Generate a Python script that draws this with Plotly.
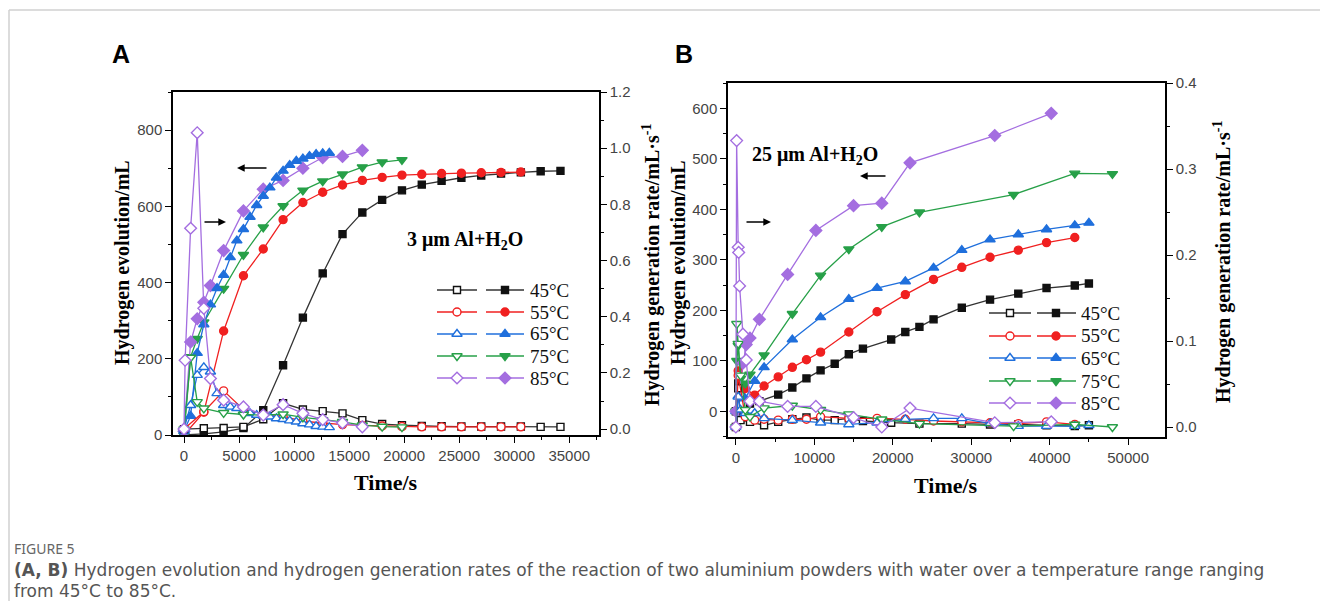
import plotly.graph_objects as go

# ---------------- data : panel A (3 um Al) ----------------
tA_45 = [0, 1800, 3600, 5400, 7200, 9000, 10800, 12600, 14400, 16200, 18000, 19800, 21600, 23400, 25200, 27000, 28800, 30600, 32400, 34200]
hA_45 = [0, 3, 8, 18, 65, 183, 308, 424, 527, 584, 617, 642, 657, 667, 675, 681, 686, 689, 692, 693]
rA_45 = [0.0, 0.003, 0.004, 0.008, 0.035, 0.092, 0.070, 0.064, 0.056, 0.032, 0.018, 0.014, 0.011, 0.010, 0.009, 0.009, 0.009, 0.009, 0.008, 0.008]

tA_55 = [0, 1800, 3600, 5400, 7200, 9000, 10800, 12600, 14400, 16200, 18000, 19800, 21600, 23400, 25200, 27000, 28800, 30600]
hA_55 = [0, 60, 273, 418, 488, 565, 610, 637, 656, 668, 676, 682, 684, 686, 687, 688, 689, 690]
rA_55 = [0.0, 0.062, 0.136, 0.070, 0.050, 0.045, 0.028, 0.022, 0.016, 0.013, 0.011, 0.009, 0.008, 0.008, 0.008, 0.008, 0.008, 0.008]

tA_65 = [0, 600, 1200, 1800, 2400, 3000, 3600, 4200, 4800, 5400, 6000, 6600, 7200, 7800, 8400, 9000, 9600, 10200, 10800, 11400, 12000, 12600, 13200]
hA_65 = [10, 50, 215, 290, 342, 385, 420, 466, 510, 540, 572, 603, 627, 649, 675, 693, 708, 719, 725, 732, 737, 739, 740]
rA_65 = [0.0, 0.085, 0.192, 0.220, 0.204, 0.127, 0.085, 0.079, 0.074, 0.062, 0.056, 0.050, 0.047, 0.044, 0.038, 0.035, 0.030, 0.026, 0.020, 0.016, 0.010, 0.008, 0.006]

tA_75 = [0, 600, 1200, 1800, 3600, 5400, 7200, 9000, 10800, 12600, 14400, 16200, 18000, 19800]
hA_75 = [0, 205, 253, 296, 384, 473, 545, 601, 642, 666, 684, 703, 716, 722]
rA_75 = [0.0, 0.255, 0.097, 0.074, 0.058, 0.052, 0.050, 0.053, 0.042, 0.033, 0.026, 0.014, 0.009, 0.007]

tA_85_rate = [0, 100, 600, 1200, 1800, 2400, 3600, 5400, 7200, 9000, 10800, 12600, 14400, 16200]
rA_85 = [0.0, 0.245, 0.715, 1.055, 0.430, 0.180, 0.103, 0.079, 0.050, 0.087, 0.056, 0.034, 0.022, 0.008]
tA_85_vol = [0, 600, 1200, 1800, 2400, 3600, 5400, 7200, 9000, 10800, 12600, 14400, 16200]
hA_85 = [10, 244, 305, 348, 392, 484, 588, 645, 668, 700, 728, 731, 747]

# ---------------- data : panel B (25 um Al) ----------------
tB_45_vol = [0, 300, 1800, 3000, 5400, 7200, 9000, 10800, 12600, 14400, 16200, 19800, 21600, 23400, 25200, 28800, 32400, 36000, 39600, 43200, 45000]
hB_45 = [0, 55, 15, 20, 33, 47, 65, 81, 94, 113, 124, 142, 157, 167, 182, 205, 221, 233, 244, 249, 253]
tB_45_rate = [0, 300, 600, 1800, 3600, 5400, 7200, 9000, 10800, 12600, 14400, 16200, 19800, 23400, 28800, 32400, 36000, 39600, 43200, 45000]
rB_45 = [0.0, 0.045, 0.008, 0.006, 0.002, 0.006, 0.009, 0.011, 0.008, 0.008, 0.010, 0.007, 0.005, 0.004, 0.004, 0.003, 0.003, 0.002, 0.001, 0.002]

tB_55 = [0, 300, 1200, 2400, 3600, 5400, 7200, 9000, 10800, 14400, 18000, 21600, 25200, 28800, 32400, 36000, 39600, 43200]
hB_55 = [0, 80, 45, 32, 50, 68, 87, 102, 117, 157, 197, 231, 261, 285, 305, 319, 334, 344]
rB_55 = [0.0, 0.060, 0.012, 0.008, 0.009, 0.008, 0.009, 0.009, 0.012, 0.010, 0.010, 0.009, 0.007, 0.006, 0.005, 0.004, 0.006, 0.003]

tB_65_vol = [0, 300, 1200, 2400, 3600, 7200, 10800, 14400, 18000, 21600, 25200, 28800, 32400, 36000, 39600, 43200, 45000]
hB_65 = [0, 30, 25, 60, 87, 142, 186, 222, 244, 257, 284, 319, 340, 350, 360, 368, 373]
tB_65_rate = [0, 300, 600, 1200, 2400, 3600, 7200, 10800, 14400, 18000, 21600, 25200, 28800, 32400, 36000, 39600, 43200, 45000]
rB_65 = [0.0, 0.035, 0.020, 0.016, 0.016, 0.010, 0.008, 0.005, 0.003, 0.005, 0.009, 0.010, 0.010, 0.004, 0.001, 0.001, 0.001, 0.002]

tB_75 = [0, 120, 300, 600, 1200, 1800, 3600, 7200, 10800, 14400, 18600, 23400, 35400, 43200, 48000]
hB_75 = [0, 100, 130, 65, 55, 73, 111, 193, 269, 321, 365, 394, 429, 471, 470]
rB_75 = [0.0, 0.120, 0.097, 0.060, 0.020, 0.012, 0.022, 0.025, 0.020, 0.015, 0.009, 0.004, 0.001, 0.003, 0.0]

tB_85_rate = [0, 100, 300, 360, 480, 900, 1320, 1800, 3000, 6600, 10200, 15000, 18600, 22200, 33000, 40200]
rB_85 = [0.0, 0.333, 0.209, 0.203, 0.164, 0.108, 0.078, 0.030, 0.030, 0.024, 0.024, 0.011, 0.0, 0.022, 0.005, 0.006]
tB_85_vol = [0, 900, 1320, 1800, 3000, 6600, 10200, 15000, 18600, 22200, 33000, 40200]
hB_85 = [0, 95, 132, 145, 182, 271, 358, 407, 412, 492, 546, 590]

temps = ["45", "55", "65", "75", "85"]
legend_labels = ["45°C", "55°C", "65°C", "75°C", "85°C"]

# ---------------- styling ----------------
W, H = 1320, 601
def PX(x): return x / W
def PY(y): return 1 - y / H

COL = {"45": "#111111", "55": "#f02020", "65": "#1f6fdc", "75": "#27a048", "85": "#a46ee0"}
LCOL = {"45": "#333333", "55": "#f02020", "65": "#1f6fdc", "75": "#27a048", "85": "#a46ee0"}
SYM = {"45": "square", "55": "circle", "65": "triangle-up", "75": "triangle-down", "85": "diamond"}
SIZE = {"45": 7, "55": 8, "65": 9, "75": 9, "85": 9}

fig = go.Figure()

def series(t, v, temp, filled, xa, ya):
    c = COL[temp]
    fig.add_trace(go.Scatter(
        x=t, y=v, mode="lines+markers", xaxis=xa, yaxis=ya,
        line=dict(color=LCOL[temp], width=1.3),
        marker=dict(symbol=SYM[temp], size=SIZE[temp],
                    color=c if filled else "white",
                    line=dict(color=c, width=1.4)),
        showlegend=False, hoverinfo="skip"))

# panel A
series(tA_45, rA_45, "45", False, "x", "y2")
series(tA_55, rA_55, "55", False, "x", "y2")
series(tA_65, rA_65, "65", False, "x", "y2")
series(tA_75, rA_75, "75", False, "x", "y2")
series(tA_85_rate, rA_85, "85", False, "x", "y2")
series(tA_45, hA_45, "45", True, "x", "y")
series(tA_55, hA_55, "55", True, "x", "y")
series(tA_75, hA_75, "75", True, "x", "y")
series(tA_85_vol, hA_85, "85", True, "x", "y")
series(tA_65, hA_65, "65", True, "x", "y")

# panel B
series(tB_45_rate, rB_45, "45", False, "x2", "y4")
series(tB_55, rB_55, "55", False, "x2", "y4")
series(tB_65_rate, rB_65, "65", False, "x2", "y4")
series(tB_75, rB_75, "75", False, "x2", "y4")
series(tB_85_rate, rB_85, "85", False, "x2", "y4")
series(tB_45_vol, hB_45, "45", True, "x2", "y3")
series(tB_55, hB_55, "55", True, "x2", "y3")
series(tB_65_vol, hB_65, "65", True, "x2", "y3")
series(tB_75, hB_75, "75", True, "x2", "y3")
series(tB_85_vol, hB_85, "85", True, "x2", "y3")

# ---------------- hand-drawn legends (pixel overlay axis) ----------------
def legend_block(rows_y, open_seg, open_mk, fill_seg, fill_mk, text_x):
    for i, temp in enumerate(temps):
        yy = rows_y[i]
        c = COL[temp]
        for seg, mk, filled in ((open_seg, open_mk, False), (fill_seg, fill_mk, True)):
            fig.add_trace(go.Scatter(x=[seg[0], seg[1]], y=[yy, yy], mode="lines",
                                     xaxis="x3", yaxis="y5", line=dict(color=LCOL[temp], width=1.4),
                                     showlegend=False, hoverinfo="skip"))
            fig.add_trace(go.Scatter(x=[mk], y=[yy], mode="markers", xaxis="x3", yaxis="y5",
                                     marker=dict(symbol=SYM[temp], size=SIZE[temp],
                                                 color=c if filled else "white",
                                                 line=dict(color=c, width=1.4)),
                                     showlegend=False, hoverinfo="skip"))
        fig.add_annotation(x=PX(text_x), y=PY(yy), xref="paper", yref="paper",
                           text=legend_labels[i], showarrow=False, xanchor="left", yanchor="middle",
                           font=dict(family="Liberation Serif, Times New Roman, serif", size=19, color="#111"))

legend_block([290, 312, 334, 356, 378], (437, 477), 457, (486, 524), 505, 528)
legend_block([313, 336, 358, 381, 403], (989, 1031), 1010, (1037, 1076), 1056, 1079)

# ---------------- axes ----------------
tickfont = dict(family="Liberation Sans, Arial, sans-serif", size=15, color="#444")
common = dict(showline=True, linecolor="black", linewidth=1.5, ticks="outside", ticklen=6,
              tickwidth=1.3, tickcolor="black", showgrid=False, zeroline=False, tickfont=tickfont,
              automargin=False)

fig.update_layout(
    template="none",
    width=W, height=H, margin=dict(l=0, r=0, t=0, b=0, pad=0, autoexpand=False), autosize=False,
    paper_bgcolor="white", plot_bgcolor="rgba(0,0,0,0)",
    xaxis=dict(domain=[PX(173), PX(599)], range=[-1000, 37700], anchor="y", mirror=True,
               tick0=0, dtick=5000, tickformat="d",
               minor=dict(ticks="outside", ticklen=3, dtick=2500, tick0=0, tickcolor="black"),
               **common),
    yaxis=dict(domain=[PY(435), PY(92)], range=[0, 900], anchor="x", tick0=0, dtick=200,
               minor=dict(ticks="outside", ticklen=3, dtick=100, tick0=0, tickcolor="black"), **common),
    yaxis2=dict(overlaying="y", side="right", anchor="x", range=[-0.021, 1.2], tick0=0, dtick=0.2,
                tickformat=".1f", minor=dict(ticks="outside", ticklen=3, dtick=0.1, tick0=0, tickcolor="black"),
                **common),
    xaxis2=dict(domain=[PX(728), PX(1165)], range=[-1000, 54700], anchor="y3", mirror=True,
                tick0=0, dtick=10000, tickformat="d",
                minor=dict(ticks="outside", ticklen=3, dtick=5000, tick0=0, tickcolor="black"),
                **common),
    yaxis3=dict(domain=[PY(437), PY(83)], range=[-51, 650], anchor="x2", tick0=0, dtick=100,
                minor=dict(ticks="outside", ticklen=3, dtick=50, tick0=0, tickcolor="black"), **common),
    yaxis4=dict(overlaying="y3", side="right", anchor="x2", range=[-0.0116, 0.4], tick0=0, dtick=0.1,
                tickformat=".1f", minor=dict(ticks="outside", ticklen=3, dtick=0.05, tick0=0, tickcolor="black"),
                **common),
    xaxis3=dict(domain=[0, 1], range=[0, W], anchor="y5", visible=False, fixedrange=True, automargin=False),
    yaxis5=dict(domain=[0, 1], range=[H, 0], anchor="x3", visible=False, fixedrange=True, automargin=False),
    showlegend=False,
)

serif_b = dict(family="Liberation Serif, Times New Roman, serif", size=20, color="black")

def ann(x, y, text, font, angle=0, xanchor="center"):
    fig.add_annotation(x=PX(x), y=PY(y), xref="paper", yref="paper", text=text, showarrow=False,
                       textangle=angle, xanchor=xanchor, yanchor="middle", font=font)

# axis titles
ann(122, 263, "<b>Hydrogen evolution/mL</b>", serif_b, -90)
ann(651, 265, "<b>Hydrogen generation rate/mL·s<sup>-1</sup></b>", serif_b, -90)
ann(678, 263, "<b>Hydrogen evolution/mL</b>", serif_b, -90)
ann(1222, 262, "<b>Hydrogen generation rate/mL·s<sup>-1</sup></b>", serif_b, -90)
ann(386, 483, "<b>Time/s</b>", dict(serif_b, size=22))
ann(946, 486, "<b>Time/s</b>", dict(serif_b, size=22))

# inner labels
ann(465, 240, "<b>3 μm Al+H<sub>2</sub>O</b>", serif_b)
ann(815, 155, "<b>25 μm Al+H<sub>2</sub>O</b>", serif_b)

# panel letters
ann(121, 54, "<b>A</b>", dict(family="Liberation Sans, Arial, sans-serif", size=25, color="black"))
ann(684, 54, "<b>B</b>", dict(family="Liberation Sans, Arial, sans-serif", size=25, color="black"))

# arrows
def arrow(head_x, head_y, dx):
    fig.add_annotation(x=PX(head_x), y=PY(head_y), xref="paper", yref="paper", text="",
                       showarrow=True, ax=dx, ay=0, axref="pixel", ayref="pixel",
                       arrowhead=2, arrowsize=1.1, arrowwidth=1.4, arrowcolor="black")

arrow(237, 168, 31)
arrow(226, 222, -23)
arrow(860, 176, 27)
arrow(771, 222, -26)

# caption
cap_font = dict(family="DejaVu Sans, sans-serif", size=17, color="#555")
ann(12, 548, "FIGURE 5", dict(family="Noto Sans, sans-serif", size=14, color="#666"), xanchor="left")
ann(12, 570, "<b>(A, B)</b> Hydrogen evolution and hydrogen generation rates of the reaction of two aluminium powders with water over a temperature range ranging",
    cap_font, xanchor="left")
ann(12, 591, "from 45°C to 85°C.", cap_font, xanchor="left")

# page frame lines
fig.add_shape(type="line", xref="paper", yref="paper", x0=PX(9), x1=1, y0=PY(10), y1=PY(10),
              line=dict(color="#d0d0d0", width=1.5))
fig.add_shape(type="line", xref="paper", yref="paper", x0=PX(9), x1=PX(9), y0=PY(10), y1=0,
              line=dict(color="#d0d0d0", width=1.5))

fig.write_html("out.html", config={"responsive": False, "displayModeBar": False},
               post_script=("document.documentElement.style.margin='0px';"
                            "document.documentElement.style.overflow='hidden';"
                            "document.body.style.margin='0px';"
                            "document.body.style.padding='0px';"
                            "document.body.style.overflow='hidden';"))
